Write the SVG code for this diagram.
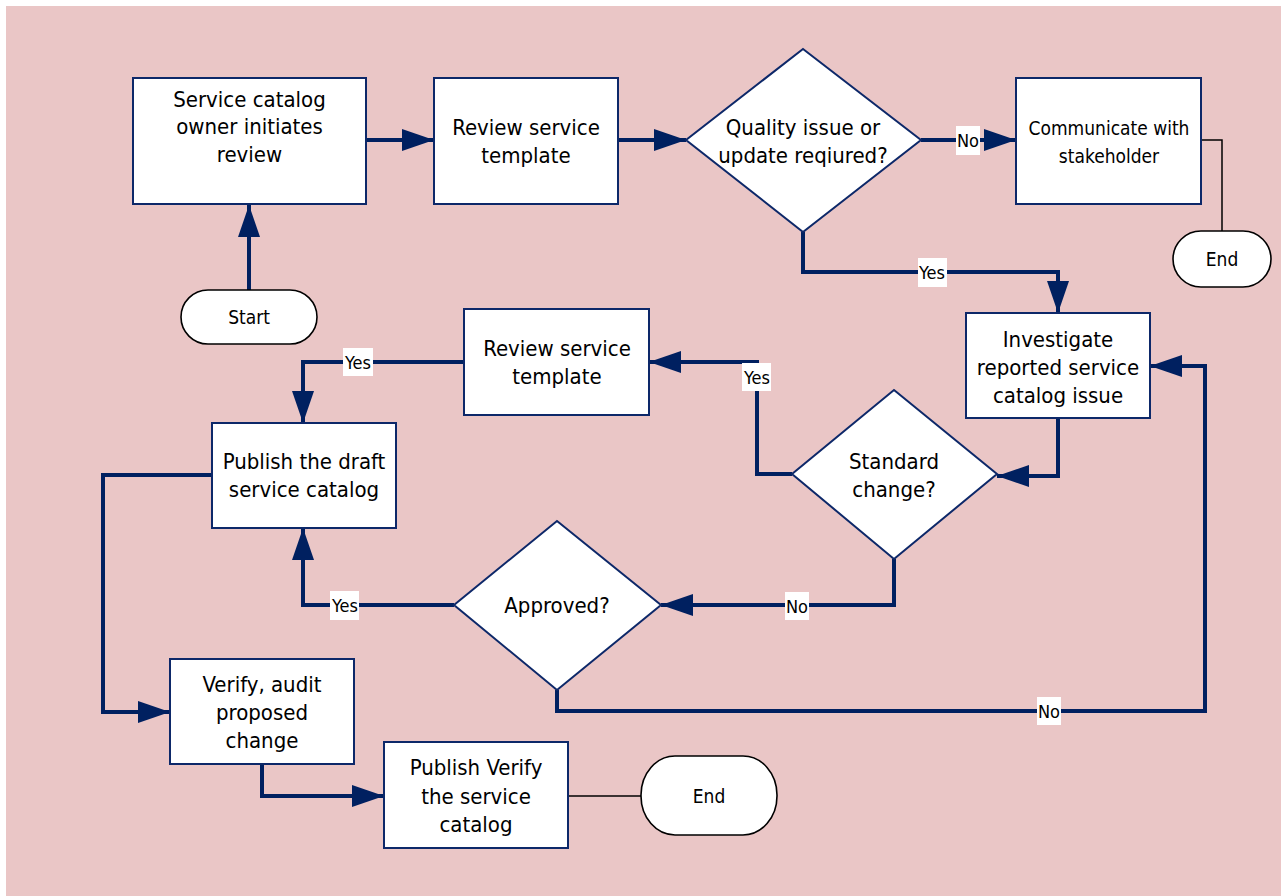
<svg xmlns="http://www.w3.org/2000/svg" width="1281" height="896" viewBox="0 0 1281 896">
  <defs>
    <style>
      .box { fill: #ffffff; stroke: #0d2869; stroke-width: 2; }
      .term { fill: #ffffff; stroke: #000000; stroke-width: 1.6; }
      .flow { fill: none; stroke: #002060; stroke-width: 4; stroke-linejoin: miter; marker-end: url(#head); }
      .plain { fill: none; stroke: #002060; stroke-width: 4; }
      .thin { fill: none; stroke: #000000; stroke-width: 1.5; }
      text { font-family: "DejaVu Sans Condensed", "DejaVu Sans", sans-serif; fill: #000000; text-anchor: middle; }
      .t { font-size: 22px; }
      .s { font-size: 19px; }
      .lbl { font-size: 18px; }
      .lblbg { fill: #ffffff; stroke: none; }
    </style>
    <marker id="head" markerUnits="userSpaceOnUse" markerWidth="32" markerHeight="22" viewBox="0 0 32 22" refX="32" refY="11" orient="auto">
      <path d="M0,0 L32,11 L0,22 Z" fill="#002060"/>
    </marker>
  </defs>

  <!-- page background -->
  <rect x="0" y="0" width="1281" height="896" fill="#ffffff"/>
  <rect x="6" y="6" width="1275" height="890" fill="#eac6c6"/>

  <!-- connectors -->
  <g id="connectors">
    <path class="flow" d="M249,290 V205"/>
    <path class="flow" d="M366,140 H434"/>
    <path class="flow" d="M618,140 H686"/>
    <path class="flow" d="M921,140 H1016"/>
    <path class="thin" d="M1201,140 H1222 V231"/>
    <path class="flow" d="M803,232 V272 H1058 V313"/>
    <path class="flow" d="M1058,418 V476 H997"/>
    <path class="flow" d="M792,474 H757 V362 H649"/>
    <path class="flow" d="M464,362 H303 V423"/>
    <path class="flow" d="M894,559 V605 H661"/>
    <path class="flow" d="M454,605 H303 V528"/>
    <path class="flow" d="M557,690 V711 H1205 V366 H1150"/>
    <path class="flow" d="M212,475 H103 V712 H170"/>
    <path class="flow" d="M262,764 V796 H384"/>
    <path class="thin" d="M568,796 H641"/>

    <!-- connector labels -->
    <rect class="lblbg" x="956" y="126" width="24" height="29"/>
    <text class="lbl" x="968" y="147">No</text>
    <rect class="lblbg" x="918" y="258" width="29" height="29"/>
    <text class="lbl" x="932" y="279">Yes</text>
    <rect class="lblbg" x="742" y="363" width="29" height="28"/>
    <text class="lbl" x="757" y="384">Yes</text>
    <rect class="lblbg" x="343" y="348" width="30" height="28"/>
    <text class="lbl" x="358" y="369">Yes</text>
    <rect class="lblbg" x="785" y="592" width="24" height="28"/>
    <text class="lbl" x="797" y="613">No</text>
    <rect class="lblbg" x="330" y="591" width="29" height="29"/>
    <text class="lbl" x="345" y="612">Yes</text>
    <rect class="lblbg" x="1037" y="697" width="24" height="28"/>
    <text class="lbl" x="1049" y="718">No</text>
  </g>

  <g id="start">
    <rect class="term" x="181" y="290" width="136" height="54" rx="27" ry="27"/>
    <text class="s" x="249" y="324">Start</text>
  </g>

  <g id="initiate-review">
    <rect class="box" x="133" y="78" width="233" height="126"/>
    <text class="t" x="249.5" y="107">Service catalog</text>
    <text class="t" x="249.5" y="134">owner initiates</text>
    <text class="t" x="249.5" y="162">review</text>
  </g>

  <g id="review-template">
    <rect class="box" x="434" y="78" width="184" height="126"/>
    <text class="t" x="526" y="135">Review service</text>
    <text class="t" x="526" y="163">template</text>
  </g>

  <g id="quality-check">
    <polygon class="box" points="803,49 921,140 803,232 686,140"/>
    <text class="t" x="803" y="135">Quality issue or</text>
    <text class="t" x="803" y="163">update reqiured?</text>
  </g>

  <g id="communicate">
    <rect class="box" x="1016" y="78" width="185" height="126"/>
    <text class="s" x="1109" y="135">Communicate with</text>
    <text class="s" x="1109" y="163">stakeholder</text>
  </g>

  <g id="end-top">
    <rect class="term" x="1173" y="231" width="98" height="56" rx="28" ry="28"/>
    <text class="s" x="1222" y="266">End</text>
  </g>

  <g id="investigate">
    <rect class="box" x="966" y="313" width="184" height="105"/>
    <text class="t" x="1058" y="347">Investigate</text>
    <text class="t" x="1058" y="375">reported service</text>
    <text class="t" x="1058" y="403">catalog issue</text>
  </g>

  <g id="standard-change">
    <polygon class="box" points="894,390 997,474 894,559 792,474"/>
    <text class="t" x="894" y="469">Standard</text>
    <text class="t" x="894" y="497">change?</text>
  </g>

  <g id="review-template-2">
    <rect class="box" x="464" y="309" width="185" height="106"/>
    <text class="t" x="557" y="356">Review service</text>
    <text class="t" x="557" y="384">template</text>
  </g>

  <g id="publish-draft">
    <rect class="box" x="212" y="423" width="184" height="105"/>
    <text class="t" x="304" y="469">Publish the draft</text>
    <text class="t" x="304" y="497">service catalog</text>
  </g>

  <g id="approved">
    <polygon class="box" points="557,521 661,605 557,690 454,605"/>
    <text class="t" x="557" y="613">Approved?</text>
  </g>

  <g id="verify-audit">
    <rect class="box" x="170" y="659" width="184" height="105"/>
    <text class="t" x="262" y="692">Verify, audit</text>
    <text class="t" x="262" y="720">proposed</text>
    <text class="t" x="262" y="748">change</text>
  </g>

  <g id="publish-verify">
    <rect class="box" x="384" y="742" width="184" height="106"/>
    <text class="t" x="476" y="775">Publish Verify</text>
    <text class="t" x="476" y="804">the service</text>
    <text class="t" x="476" y="832">catalog</text>
  </g>

  <g id="end-bottom">
    <rect class="term" x="641" y="756" width="136" height="79" rx="34" ry="39"/>
    <text class="s" x="709" y="803">End</text>
  </g>
</svg>
